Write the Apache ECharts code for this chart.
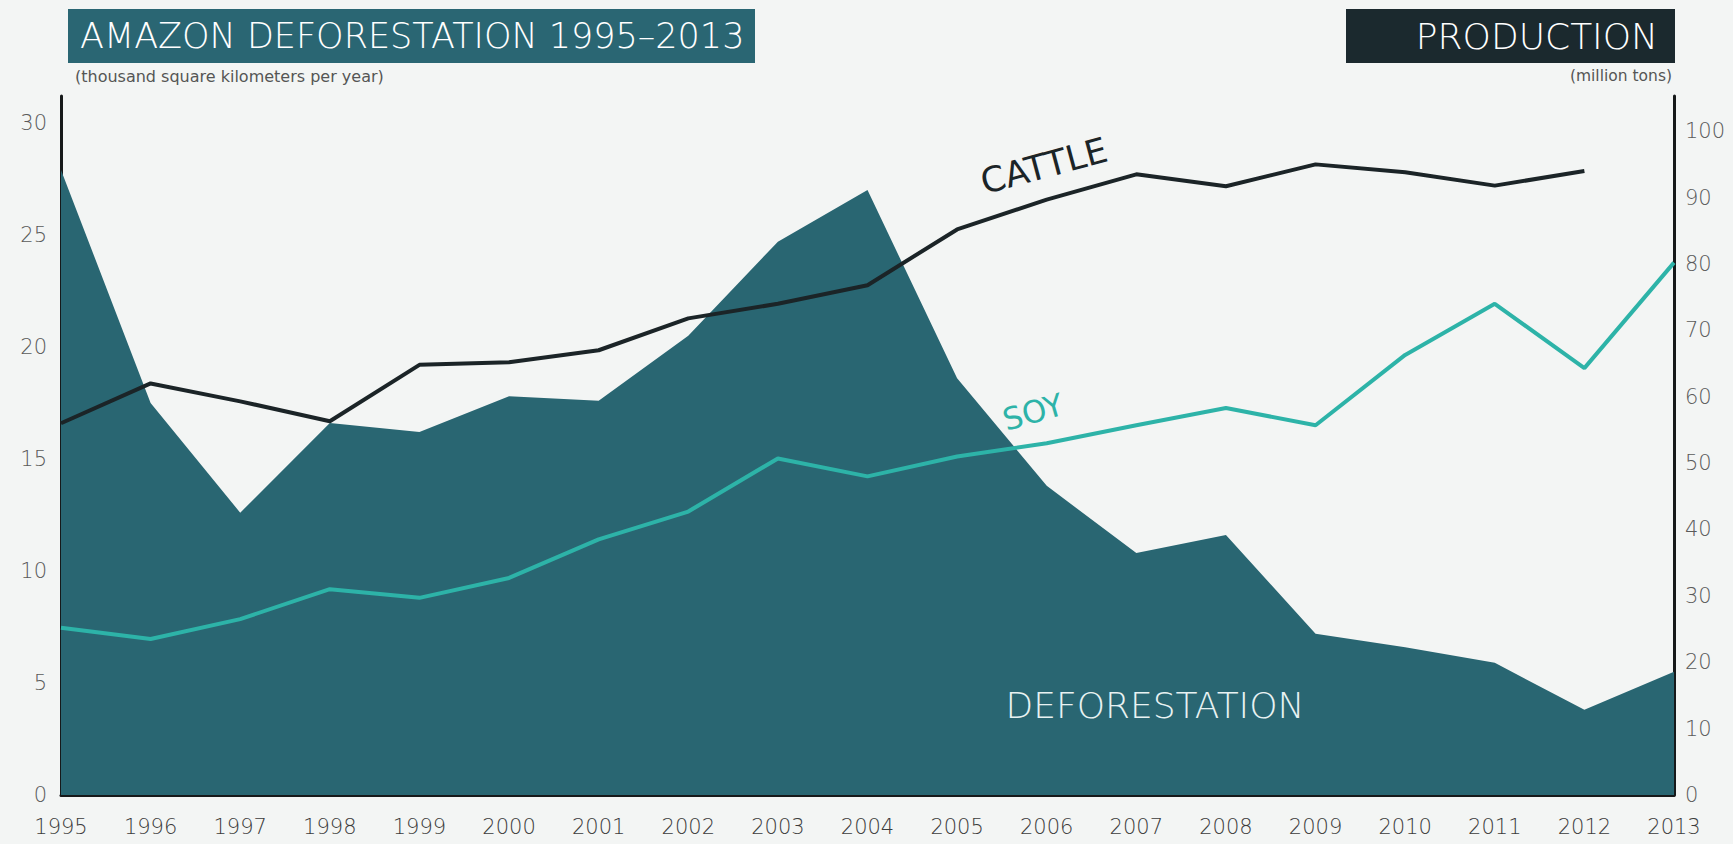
<!DOCTYPE html>
<html>
<head>
<meta charset="utf-8">
<script src="https://cdn.jsdelivr.net/npm/echarts@6/dist/echarts.min.js"></script>
<style>
html,body{margin:0;padding:0;background:#f3f5f4;}
#chart{width:1733px;height:844px;}
</style>
</head>
<body>
<div id="chart"></div>
<script>
const years = ['1995','1996','1997','1998','1999','2000','2001','2002','2003','2004','2005','2006','2007','2008','2009','2010','2011','2012','2013'];
const deforestation = [27.9, 17.5, 12.6, 16.6, 16.2, 17.8, 17.6, 20.5, 24.7, 27.0, 18.6, 13.8, 10.8, 11.6, 7.2, 6.6, 5.9, 3.8, 5.5];
const cattle = [56, 62, 59.3, 56.3, 64.8, 65.2, 67, 71.8, 74, 76.8, 85.2, 89.7, 93.5, 91.7, 95, 93.8, 91.8, 94, null];
const soy = [25.2, 23.5, 26.5, 31, 29.7, 32.7, 38.5, 42.7, 50.7, 48, 51, 53, 55.7, 58.3, 55.7, 66.3, 74, 64.3, 80.2];

const FONT = 'DejaVu Sans';
const chart = echarts.init(document.getElementById('chart'), null, {renderer: 'svg'});
chart.setOption({
  backgroundColor: '#f3f5f4',
  animation: false,
  grid: {left: 61, right: 59, top: 96, bottom: 49},
  xAxis: {
    type: 'category',
    data: years,
    boundaryGap: false,
    axisLine: {lineStyle: {color: '#16191a', width: 3}},
    axisTick: {show: false},
    axisLabel: {color: '#3c3c3c', fontFamily: FONT, fontWeight: 200, fontSize: 21, margin: 21, interval: 0}
  },
  yAxis: [{
    type: 'value', min: 0, max: 31.2, interval: 5,
    axisLine: {show: true, lineStyle: {color: '#16191a', width: 3}},
    axisTick: {show: false},
    splitLine: {show: false},
    axisLabel: {color: '#5a5a5a', fontFamily: FONT, fontWeight: 200, fontSize: 21, margin: 14,
      formatter: v => (Math.abs(v % 5) < 1e-6 ? String(v) : '')}
  }, {
    type: 'value', min: 0, max: 105.3, interval: 10, position: 'right',
    axisLine: {show: true, lineStyle: {color: '#16191a', width: 3}},
    axisTick: {show: false},
    splitLine: {show: false},
    axisLabel: {color: '#5a5a5a', fontFamily: FONT, fontWeight: 200, fontSize: 21, margin: 11,
      formatter: v => (Math.abs(v % 10) < 1e-6 ? String(v) : '')}
  }],
  series: [{
    name: 'Deforestation', type: 'line', yAxisIndex: 0, data: deforestation,
    symbol: 'none', lineStyle: {width: 0}, areaStyle: {color: '#296672', opacity: 1}, z: 1
  }, {
    name: 'Cattle', type: 'line', yAxisIndex: 1, data: cattle,
    symbol: 'none', lineStyle: {color: '#1b2427', width: 4}, z: 3
  }, {
    name: 'Soy', type: 'line', yAxisIndex: 1, data: soy,
    symbol: 'none', lineStyle: {color: '#2db3a8', width: 4}, z: 3
  }],
  graphic: [
    {type: 'rect', left: 68, top: 9, shape: {width: 687, height: 54}, style: {fill: '#2a6673'}, z: 10},
    {type: 'text', left: 80, top: 18, style: {text: 'AMAZON DEFORESTATION 1995–2013', fill: '#ffffff', font: '200 35px "DejaVu Sans"'}, z: 11},
    {type: 'text', left: 75, top: 68, style: {text: '(thousand square kilometers per year)', fill: '#555', font: '400 16px "DejaVu Sans"'}, z: 11},
    {type: 'rect', left: 1346, top: 9, shape: {width: 329, height: 54}, style: {fill: '#1b292e'}, z: 10},
    {type: 'text', right: 1733 - 1658, top: 18, style: {text: 'PRODUCTION', fill: '#ffffff', font: '200 36px "DejaVu Sans"', textAlign: 'right'}, z: 11},
    {type: 'text', right: 1733 - 1672, top: 68, style: {text: '(million tons)', fill: '#555', font: '400 15.5px "DejaVu Sans"'}, z: 11},
    {type: 'text', x: 1044, y: 166, rotation: 15 * Math.PI / 180, style: {text: 'CATTLE', fill: '#1b2427', font: '400 35px "DejaVu Sans"', textAlign: 'center', textVerticalAlign: 'middle'}, z: 11},
    {type: 'text', x: 1033, y: 412, rotation: 16 * Math.PI / 180, style: {text: 'SOY', fill: '#2db3a8', font: '400 31px "DejaVu Sans"', textAlign: 'center', textVerticalAlign: 'middle'}, z: 11},
    {type: 'text', x: 1155, y: 705, style: {text: 'DEFORESTATION', fill: '#e8f2f2', font: '200 36px "DejaVu Sans"', textAlign: 'center', textVerticalAlign: 'middle'}, z: 11}
  ]
});
</script>
</body>
</html>
